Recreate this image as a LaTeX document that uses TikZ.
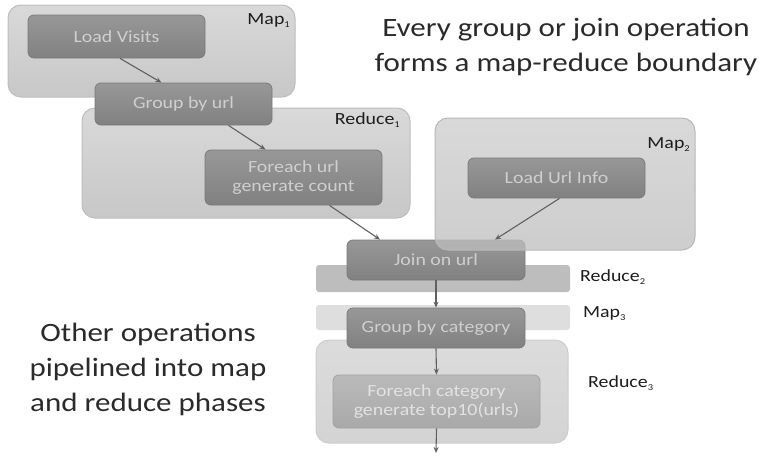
\documentclass[tikz,border=0pt]{standalone}
\usepackage{fontspec}
\setmainfont{Carlito}[FakeStretch=1.17]
\usetikzlibrary{calc,arrows.meta}
\definecolor{outerfill}{HTML}{D2D2D2}
\definecolor{outerdraw}{HTML}{BDBDBD}
\definecolor{innerfill}{HTML}{8C8C8C}
\definecolor{innerdraw}{HTML}{7A7A7A}
\definecolor{innertext}{HTML}{CFCFCF}
\definecolor{arrowc}{HTML}{606060}
\definecolor{labelc}{HTML}{1C1C1C}
\definecolor{bigtext}{HTML}{2A2A2A}
\tikzset{
  outerbox/.style={draw=outerdraw, line width=1pt, rounded corners=13pt,
    top color=outerfill!85!white, bottom color=outerfill!95!black, inner sep=0pt},
  innerbox/.style={draw=innerdraw, line width=0.8pt, rounded corners=6pt,
    top color=innerfill!90!white, bottom color=innerfill!92!black,
    text=innertext, font=\fontsize{17}{19}\selectfont, align=center, inner sep=0pt},
  lightinner/.style={innerbox, draw=innerdraw!70!white,
    top color=innerfill!60!white, bottom color=innerfill!75!white, text=innertext!60!white},
  band/.style={draw=none, rounded corners=3pt, inner sep=0pt},
  phaselabel/.style={text=labelc, font=\fontsize{17}{19}\selectfont, inner sep=0pt},
  bigcap/.style={text=bigtext, font=\fontsize{26.5}{35}\selectfont, align=center, inner sep=0pt},
  arr/.style={draw=arrowc, line width=1.1pt, -{Stealth[length=6pt,width=5pt]}},
}
\newcommand{\phsub}[1]{\raisebox{-3pt}{\fontsize{9}{9}\selectfont #1}}
\begin{document}
\begin{tikzpicture}[x=1pt,y=-1pt]
\useasboundingbox (0,0) rectangle (768,455);
% outer phase boxes
\node[outerbox, minimum width=287pt, minimum height=92pt] (map1) at (151.5,51) {};
\node[outerbox, minimum width=328pt, minimum height=110pt] (red1) at (246,163) {};
\node[band, fill=black!26, minimum width=254pt, minimum height=27pt] (red2) at (443,278.5) {};
\node[band, fill=black!13, minimum width=254pt, minimum height=25pt] (map3) at (443,317.5) {};
\node[outerbox, draw=black!20, top color=black!14, bottom color=black!17, minimum width=252pt, minimum height=103pt] (red3) at (442,391.5) {};
% operator boxes
\node[innerbox, minimum width=177pt, minimum height=43pt] (lv) at (116.5,36.5) {Load Visits};
\node[innerbox, minimum width=177pt, minimum height=42pt] (gu) at (183.5,104) {Group by url};
\node[innerbox, minimum width=177pt, minimum height=55pt] (fu) at (293.5,177.5) {Foreach url\\generate count};
\node[innerbox, minimum width=178pt, minimum height=40pt] (join) at (436,260) {Join on url};
\node[outerbox, draw=black!28, top color=black!20, bottom color=black!26, fill opacity=0.75, minimum width=260pt, minimum height=132pt] (map2) at (565,184) {};
\node[innerbox, minimum width=177pt, minimum height=40pt] (lui) at (556.5,178) {Load Url Info};
\node[innerbox, minimum width=178pt, minimum height=40pt] (gc) at (436,328) {Group by category};
\node[lightinner, minimum width=207pt, minimum height=53pt] (fc) at (436.5,401.5) {Foreach category\\generate top10(urls)};
\coordinate (out) at (436,453);
% phase labels
\node[phaselabel, anchor=east] (lmap1) at (290,21) {Map\phsub{1}};
\node[phaselabel, anchor=east] (lred1) at (400,120) {Reduce\phsub{1}};
\node[phaselabel, anchor=east] (lmap2) at (690,145) {Map\phsub{2}};
\node[phaselabel, anchor=west] (lred2) at (580,277) {Reduce\phsub{2}};
\node[phaselabel, anchor=west] (lmap3) at (583,314) {Map\phsub{3}};
\node[phaselabel, anchor=west] (lred3) at (588,383) {Reduce\phsub{3}};
% connectors
\draw[arr] ($(lv.south)+(3.5,0)$) -- ($(gu.north)+(-22,0)$);
\draw[arr] ($(gu.south)+(45,0)$) -- ($(fu.north)+(-28,0)$);
\draw[arr] ($(fu.south)+(36,0)$) -- ($(join.north)+(-56,0)$);
\draw[arr] ($(lui.south)+(3,0)$) -- ($(join.north)+(59,0)$);
\draw[arr] (join.south) -- (gc.north);
\draw[arr] (gc.south) -- (fc.north);
\draw[arr] (fc.south) -- (out);
% captions
\node[bigcap] (cap1) at (566,47) {Every group or join operation\\forms a map-reduce boundary};
\node[bigcap] (cap2) at (148,369) {Other operations\\pipelined into map\\and reduce phases};
\end{tikzpicture}
\end{document}
